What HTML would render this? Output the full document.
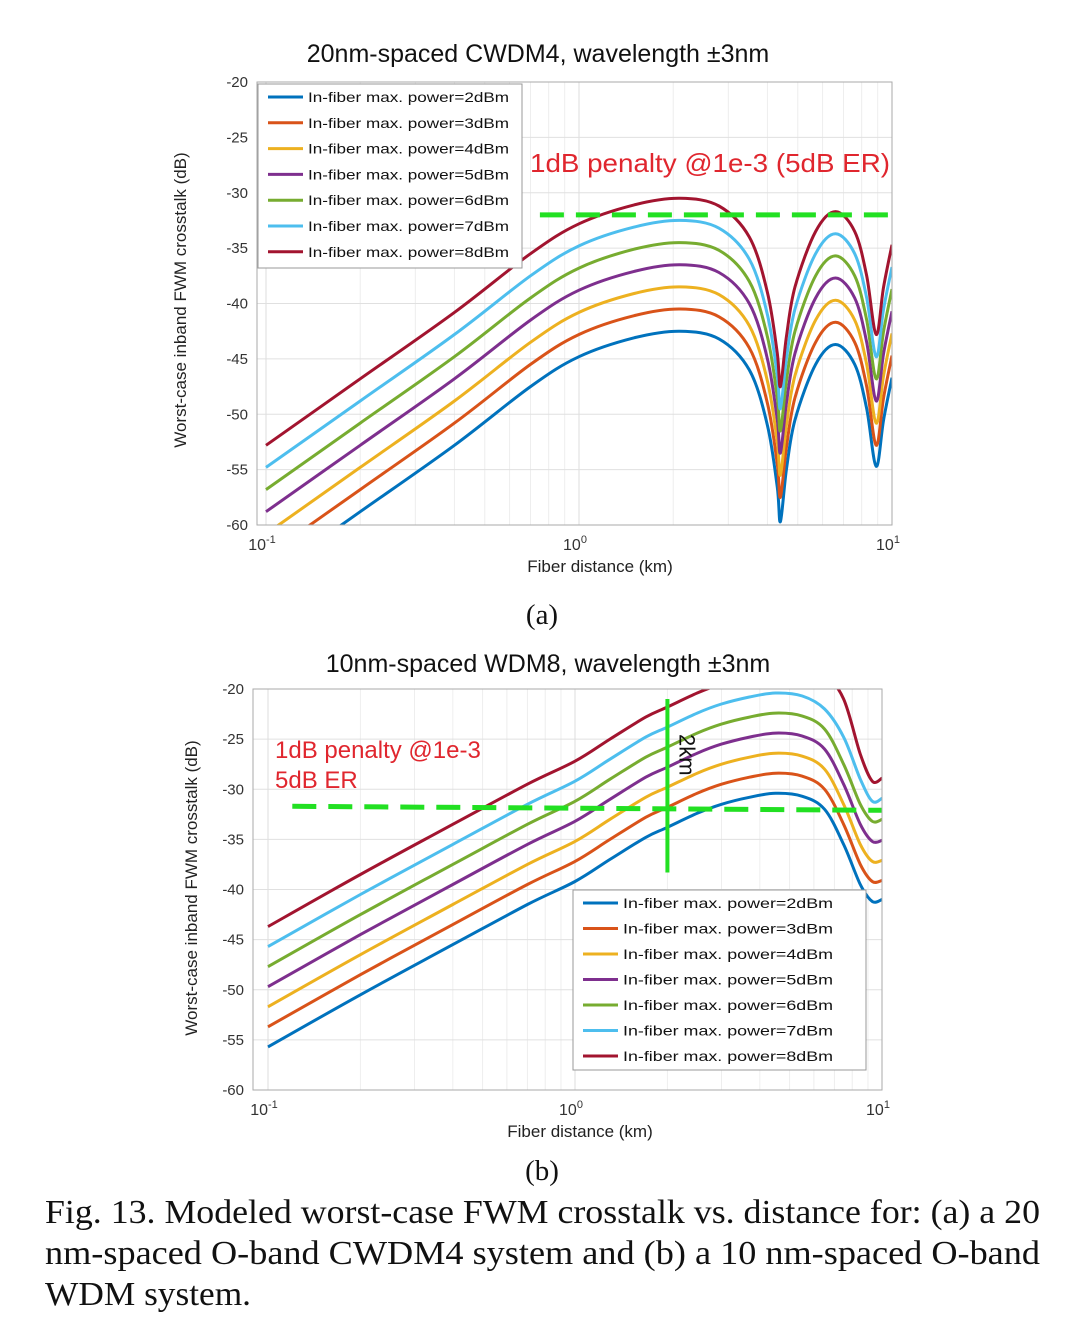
<!DOCTYPE html>
<html><head><meta charset="utf-8"><style>
html,body{margin:0;padding:0;background:#fff;width:1080px;height:1320px;overflow:hidden}
svg{display:block}
</style></head><body>
<svg id="fig" width="1080" height="1320" viewBox="0 0 1080 1320" xmlns="http://www.w3.org/2000/svg" font-family="Liberation Sans, sans-serif"></svg>
<script>
// ---- data (chart a) ----
const seriesNames = ["In-fiber max. power=2dBm","In-fiber max. power=3dBm","In-fiber max. power=4dBm","In-fiber max. power=5dBm","In-fiber max. power=6dBm","In-fiber max. power=7dBm","In-fiber max. power=8dBm"];
const seriesColors = ["#0072BD","#D95319","#EDB120","#7E2F8E","#77AC30","#4DBEEE","#A2142F"];
const yTicks = [-20,-25,-30,-35,-40,-45,-50,-55,-60];
const xTickExps = [-1,0,1];
const distA = [0.1,0.2,0.4,0.7,1.0,1.5,2.1,2.8,3.5,4.0,4.3,4.4,4.6,4.9,5.7,6.6,7.6,8.3,8.9,9.4,10];
const a2dBm = [-64.8,-58.8,-52.8,-47.5,-44.8,-43.1,-42.5,-43.2,-46,-51,-56.6,-59.7,-55,-50.5,-45.5,-43.7,-45.5,-49.5,-54.7,-50.5,-46.7];
const a3dBm = [-62.8,-56.8,-50.8,-45.5,-42.8,-41.1,-40.5,-41.2,-44,-49,-54.5,-57.5,-53,-48.5,-43.5,-41.7,-43.5,-47.5,-52.8,-48.5,-44.7];
const a4dBm = [-60.8,-54.8,-48.8,-43.5,-40.8,-39.1,-38.5,-39.2,-42,-47,-52.5,-55.5,-51,-46.5,-41.5,-39.7,-41.5,-45.5,-50.8,-46.5,-42.7];
const a5dBm = [-58.8,-52.8,-46.8,-41.5,-38.8,-37.1,-36.5,-37.2,-40,-45,-50.5,-53.5,-49,-44.5,-39.5,-37.7,-39.5,-43.5,-48.8,-44.5,-40.7];
const a6dBm = [-56.8,-50.8,-44.8,-39.5,-36.8,-35.1,-34.5,-35.2,-38,-43,-48.5,-51.5,-47,-42.5,-37.5,-35.7,-37.5,-41.5,-46.8,-42.5,-38.7];
const a7dBm = [-54.8,-48.8,-42.8,-37.5,-34.8,-33.1,-32.5,-33.2,-36,-41,-46.5,-49.5,-45,-40.5,-35.5,-33.7,-35.5,-39.5,-44.8,-40.5,-36.7];
const a8dBm = [-52.8,-46.8,-40.8,-35.5,-32.8,-31.1,-30.5,-31.2,-34,-39,-44.5,-47.5,-43,-38.5,-33.5,-31.7,-33.5,-37.5,-42.8,-38.5,-34.7];
const thresholdA = -32;
// ---- data (chart b) ----
const distB = [0.1,0.2,0.4,0.7,1.0,1.3,1.7,2.0,2.5,3.0,3.7,4.5,5.5,6.5,7.5,8.5,9.3,10];
const b2dBm = [-55.7,-50.5,-45.5,-41.5,-39.2,-37,-34.8,-33.8,-32.4,-31.5,-30.8,-30.4,-30.7,-32,-35.5,-39.5,-41.2,-41.0];
const b3dBm = [-53.7,-48.5,-43.5,-39.5,-37.2,-35,-32.8,-31.8,-30.4,-29.5,-28.8,-28.4,-28.7,-30,-33.5,-37.5,-39.2,-39.1];
const b4dBm = [-51.7,-46.5,-41.5,-37.5,-35.2,-33,-30.8,-29.8,-28.4,-27.5,-26.8,-26.4,-26.7,-28,-31.5,-35.5,-37.2,-37.1];
const b5dBm = [-49.7,-44.5,-39.5,-35.5,-33.2,-31,-28.8,-27.8,-26.4,-25.5,-24.8,-24.4,-24.7,-26,-29.5,-33.5,-35.2,-35.1];
const b6dBm = [-47.7,-42.5,-37.5,-33.5,-31.2,-29,-26.8,-25.8,-24.4,-23.5,-22.8,-22.4,-22.7,-24,-27.5,-31.5,-33.2,-33.0];
const b7dBm = [-45.7,-40.5,-35.5,-31.5,-29.2,-27,-24.8,-23.8,-22.4,-21.5,-20.8,-20.4,-20.7,-22,-24.8,-29.0,-31.2,-30.9];
const b8dBm = [-43.7,-38.5,-33.5,-29.5,-27.2,-25,-22.8,-21.8,-20.4,-19.5,-18.8,-18.4,-18.4,-18.6,-21.0,-26.5,-29.2,-28.9];
const thresholdB = [-31.7,-32.1];
const markerKm = 2;
const markerRange = [-21,-38.3];

const NS="http://www.w3.org/2000/svg";
const svg=document.getElementById('fig');
function mk(tag,attrs,parent,text){const e=document.createElementNS(NS,tag);for(const k in attrs)e.setAttribute(k,attrs[k]);if(text!==undefined)e.textContent=text;(parent||svg).appendChild(e);return e;}

function spline(pts){
  let d="M"+pts[0][0].toFixed(1)+","+pts[0][1].toFixed(1);
  for(let i=0;i<pts.length-1;i++){
    const p0=pts[Math.max(0,i-1)],p1=pts[i],p2=pts[i+1],p3=pts[Math.min(pts.length-1,i+2)];
    const c1=[p1[0]+(p2[0]-p0[0])/6,p1[1]+(p2[1]-p0[1])/6];
    const c2=[p2[0]-(p3[0]-p1[0])/6,p2[1]-(p3[1]-p1[1])/6];
    d+=" C"+c1[0].toFixed(1)+","+c1[1].toFixed(1)+" "+c2[0].toFixed(1)+","+c2[1].toFixed(1)+" "+p2[0].toFixed(1)+","+p2[1].toFixed(1);
  }
  return d;
}

function chart(o){
  const g=mk('g',{});
  
  
  const xs=v=>o.x0+(Math.log10(v)+1)/2*(o.x1-o.x0);
  const ys=v=>o.top+(-20-v)/40*(o.bot-o.top);
  mk('rect',{x:o.fl,y:o.top,width:o.x1-o.fl+1,height:o.bot-o.top,fill:'#fff'},g);
  const grid=mk('g',{stroke:'#e4e4e4','stroke-width':1},g);
  
  
  for(let e=-1;e<1;e++)for(let m=1;m<10;m++){const X=xs(m*Math.pow(10,e));mk('line',{x1:X,x2:X,y1:o.top,y2:o.bot,stroke:m==1?'#dcdcdc':'#eeeeee'},grid);}
  yTicks.forEach(t=>{mk('line',{x1:o.fl,x2:o.x1,y1:ys(t),y2:ys(t),stroke:'#e0e0e0'},grid);});
  yTicks.forEach(t=>{const l=mk('text',{x:o.fl-9,y:ys(t)+5,'text-anchor':'end','font-size':15,fill:'#333'},g,String(t));
    });
  xTickExps.forEach(ex=>{const X=xs(Math.pow(10,ex));const t=mk('text',{x:X-4,y:o.bot+25,'text-anchor':'middle','font-size':16,fill:'#333'},g);
    
    mk('tspan',{},t,'10');mk('tspan',{dy:-7,'font-size':11},t,String(ex));});
  const cp=mk('clipPath',{id:'clip'+o.id},g);mk('rect',{x:o.fl,y:o.top,width:o.x1-o.fl,height:o.bot-o.top},cp);
  const lines=mk('g',{'clip-path':'url(#clip'+o.id+')',fill:'none','stroke-width':3,'stroke-linejoin':'round'},g);
  o.series.forEach((s,i)=>{
    const pts=o.dist.map((d,j)=>[xs(d),ys(s[j])]);
    const p=mk('path',{d:spline(pts),stroke:seriesColors[i]},lines);
    
    
  });
  o.extra(g,xs,ys);
  mk('rect',{x:o.fl,y:o.top,width:o.x1-o.fl,height:o.bot-o.top,fill:'none',stroke:'#aaa','stroke-width':1},g);
  const lg=mk('g',{},g);
  
  mk('rect',{x:o.lx,y:o.ly,width:o.lw,height:o.lh,fill:'#fff',stroke:'#999'},lg);
  seriesNames.forEach((n,i)=>{const Y=o.ly+13+i*o.lstep;
    const e=mk('g',{},lg);
    mk('line',{x1:o.lx+10,x2:o.lx+45,y1:Y,y2:Y,stroke:seriesColors[i],'stroke-width':3},e);
    mk('text',{x:o.lx+50,y:Y+5,'font-size':14,fill:'#111',textLength:o.ltl,lengthAdjust:'spacingAndGlyphs'},e,n);});
  const tt=mk('text',{x:o.tx,y:o.ty,'text-anchor':'middle','font-size':25,fill:'#111'},g,o.title);
  
  const xl=mk('text',{x:o.xlx,y:o.bot+47,'text-anchor':'middle','font-size':17,fill:'#222'},g,'Fiber distance (km)');
  
  const yl=mk('text',{x:0,y:0,'text-anchor':'middle','font-size':17,fill:'#222',transform:'translate('+o.ylx+','+o.yly+') rotate(-90)'},g,'Worst-case inband FWM crosstalk (dB)');
  
  const cap=mk('text',{x:542,y:o.capy,'text-anchor':'middle','font-size':29,'font-family':'Liberation Serif, serif',fill:'#111'},g,o.cap);
  
}

chart({id:'a',x0:266,x1:892,fl:257,top:82,bot:525,dist:distA,series:[a2dBm,a3dBm,a4dBm,a5dBm,a6dBm,a7dBm,a8dBm],
  lx:258,ly:84,lw:264,lh:184,lstep:25.8,ltl:201,title:'20nm-spaced CWDM4, wavelength ±3nm',tx:538,ty:62,xlx:600,ylx:186,yly:300,cap:'(a)',capy:624,
  extra:(g,xs,ys)=>{
    const l=mk('line',{x1:xs(0.75),x2:xs(10),y1:ys(thresholdA),y2:ys(thresholdA),stroke:'#22e022','stroke-width':5,'stroke-dasharray':'24 12'},g);
    
    const t=mk('text',{x:530,y:172,'font-size':26,fill:'#e0262e',textLength:360,lengthAdjust:'spacingAndGlyphs'},g,'1dB penalty @1e-3 (5dB ER)');
    
  }});
chart({id:'b',x0:268,x1:882,fl:253,top:689,bot:1090,dist:distB,series:[b2dBm,b3dBm,b4dBm,b5dBm,b6dBm,b7dBm,b8dBm],
  lx:573,ly:890,lw:293,lh:180,lstep:25.5,ltl:210,title:'10nm-spaced WDM8, wavelength ±3nm',tx:548,ty:672,xlx:580,ylx:197,yly:888,cap:'(b)',capy:1180,
  extra:(g,xs,ys)=>{
    const l=mk('line',{x1:xs(0.12),x2:xs(10),y1:ys(thresholdB[0]),y2:ys(thresholdB[1]),stroke:'#22e022','stroke-width':5,'stroke-dasharray':'24 12'},g);
    
    const v=mk('line',{x1:xs(markerKm),x2:xs(markerKm),y1:ys(markerRange[0]),y2:ys(markerRange[1]),stroke:'#22e022','stroke-width':4},g);
    
    const k=mk('text',{x:0,y:0,'font-size':22,fill:'#111',transform:'translate('+(xs(markerKm)+12)+',734) rotate(90)'},g,'2km');
    
    const t1=mk('text',{x:275,y:758,'font-size':24,fill:'#e0262e'},g,'1dB penalty @1e-3');
    
    const t2=mk('text',{x:275,y:788,'font-size':24,fill:'#e0262e'},g,'5dB ER');
    
  }});

const capLines=[['Fig. 13.  Modeled worst-case FWM crosstalk vs. distance for: (a) a 20',995],['nm-spaced O-band CWDM4 system and (b) a 10 nm-spaced O-band',995],['WDM system.',206]];
capLines.forEach((c,i)=>{const t=mk('text',{x:45,y:1223+i*41,'font-size':34,'font-family':'Liberation Serif, serif',fill:'#111',textLength:c[1],lengthAdjust:'spacingAndGlyphs'},svg,c[0]);
  });
</script>
</body></html>
